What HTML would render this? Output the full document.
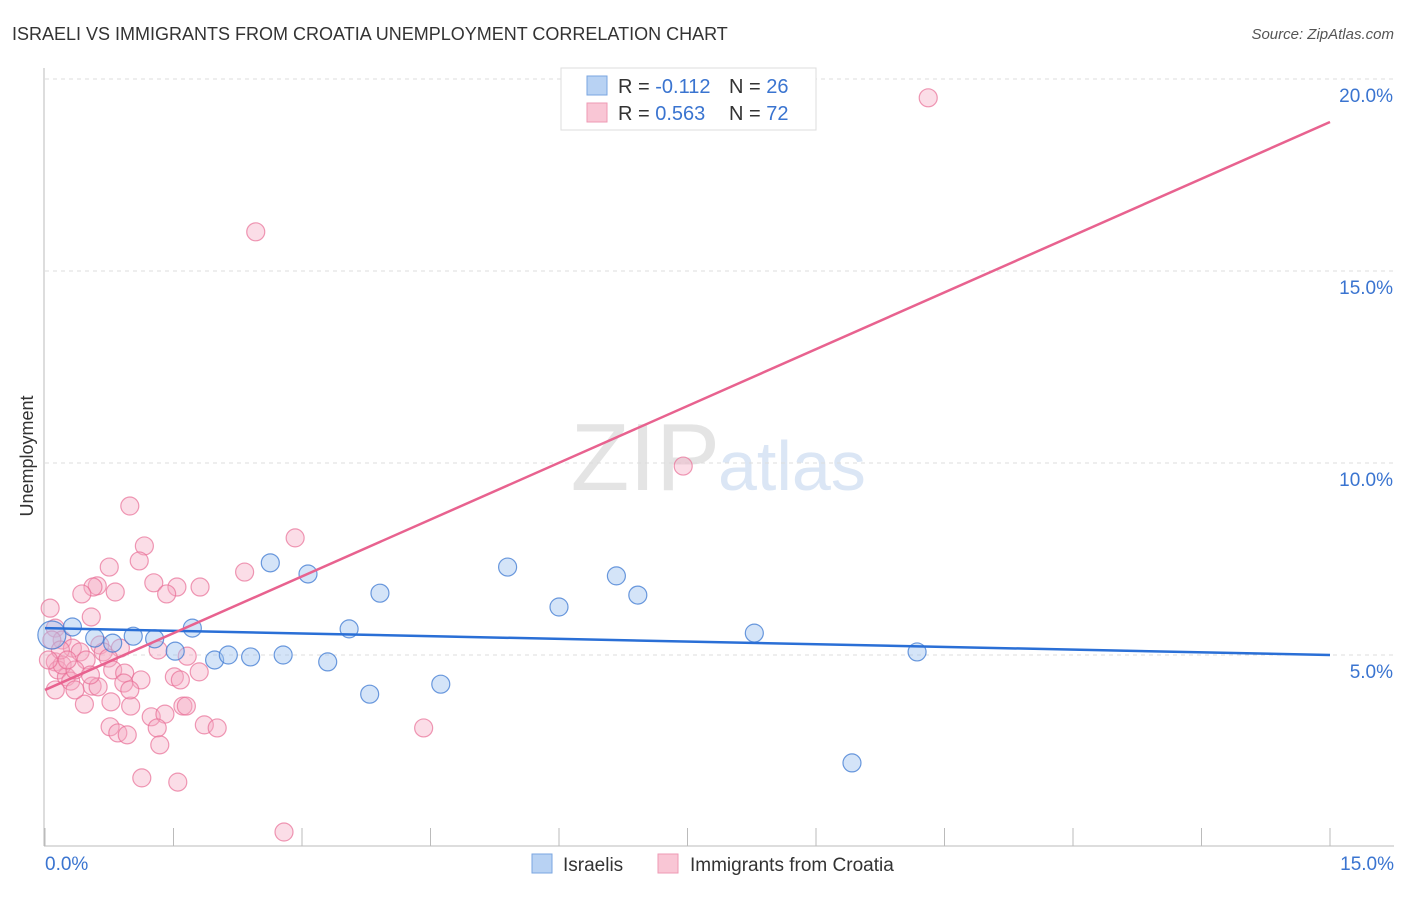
<!DOCTYPE html>
<html><head><meta charset="utf-8"><style>
body{margin:0;background:#fff;font-family:"Liberation Sans",sans-serif;}
svg text{font-family:"Liberation Sans",sans-serif;}
</style></head><body>
<svg id="chart" width="1406" height="892" viewBox="0 0 1406 892">
<text x="12" y="40" font-size="18" fill="#333">ISRAELI VS IMMIGRANTS FROM CROATIA UNEMPLOYMENT CORRELATION CHART</text>
<text x="1394" y="39" font-size="15" fill="#555" text-anchor="end" font-style="italic">Source: ZipAtlas.com</text>
<text x="33" y="456" font-size="18" fill="#333" text-anchor="middle" transform="rotate(-90 33 456)">Unemployment</text>
<text x="720" y="490" font-size="96" fill="#e4e4e4" text-anchor="end" font-family="Liberation Serif">ZIP</text>
<text x="718" y="490" font-size="70" fill="#dbe6f5">atlas</text>
<g id="grid"></g><g id="axes"></g><g id="lines"></g><g id="pts"></g>
<g>
<rect x="561" y="68" width="255" height="62" fill="#fff" stroke="#ddd"/>
<rect x="587" y="76" width="20" height="19" fill="#b8d2f3" stroke="#7aa6e0"/>
<rect x="587" y="103" width="20" height="19" fill="#f9c6d5" stroke="#ee9ab4"/>
<text x="618" y="93" font-size="20" fill="#333">R = <tspan fill="#3a74d0">-0.112</tspan></text>
<text x="729" y="93" font-size="20" fill="#333">N = <tspan fill="#3a74d0">26</tspan></text>
<text x="618" y="120" font-size="20" fill="#333">R = <tspan fill="#3a74d0"> 0.563</tspan></text>
<text x="729" y="120" font-size="20" fill="#333">N = <tspan fill="#3a74d0">72</tspan></text>
</g>
<g>
<rect x="532" y="854" width="20" height="19" fill="#b8d2f3" stroke="#7aa6e0"/>
<text x="563" y="871" font-size="19" fill="#333">Israelis</text>
<rect x="658" y="854" width="20" height="19" fill="#f9c6d5" stroke="#ee9ab4"/>
<text x="690" y="871" font-size="19" fill="#333">Immigrants from Croatia</text>
</g>
</svg>
<script>
const yTicks=[5,10,15,20];
const yTickLabels=["5.0%","10.0%","15.0%","20.0%"];
const xTicks=[0,1.5,3,4.5,6,7.5,9,10.5,12,13.5,15];
const xEndLabels=["0.0%","15.0%"];
const blueX=[.08,.32,.58,.79,1.03,1.28,1.52,1.72,1.98,2.14,2.40,2.63,2.78,3.07,3.30,3.55,3.79,3.91,4.62,5.40,6.00,6.67,6.92,8.28,10.18,9.42];
const blueY=[5.52,5.73,5.44,5.31,5.49,5.42,5.10,5.70,4.87,5.00,4.95,7.40,5.00,7.11,4.82,5.68,3.98,6.61,4.24,7.29,6.25,7.06,6.56,5.57,5.08,2.19];
const pinkX=[2.46,10.31,7.45,.99,2.92,1.16,1.10,.75,2.33,.61,1.27,1.54,1.81,.56,.82,.43,1.42,.06,.54,.12,.20,.64,.88,1.32,1.66,.68,.74,.32,.41,.48,.12,.15,.25,.30,.20,.35,.79,.93,1.12,1.51,1.58,1.80,.92,.55,.62,.46,.77,1.00,1.24,1.40,1.61,1.65,.76,.85,.96,1.86,2.01,1.31,1.34,1.13,1.55,2.79,4.42,.08,.18,.04,.26,.35,.53,.99,.12];
const pinkY=[16.02,19.51,9.92,8.88,8.05,7.84,7.45,7.29,7.16,6.80,6.88,6.77,6.77,6.77,6.64,6.59,6.59,6.22,5.99,5.70,5.39,5.26,5.18,5.13,4.97,5.08,4.92,5.18,5.08,4.87,4.82,4.61,4.43,4.32,4.74,4.61,4.61,4.53,4.35,4.43,4.35,4.56,4.27,4.19,4.17,3.72,3.78,3.67,3.39,3.46,3.67,3.67,3.13,2.97,2.92,3.18,3.10,3.10,2.66,1.80,1.69,.39,3.10,5.39,5.13,4.87,4.87,4.09,4.48,4.09,4.09];
const blueTrend=[5.70,5.00];
const pinkTrend=[4.09,18.88];
const NS="http://www.w3.org/2000/svg";
const X=v=>45+v/15*1285, Y=v=>847-v*38.4;
function mk(p,t,a){const e=document.createElementNS(NS,t);for(const k in a)e.setAttribute(k,a[k]);document.getElementById(p).appendChild(e);return e;}
yTicks.forEach((t,i)=>{
 const l=mk('grid','line',{x1:45,x2:1394,y1:Y(t),y2:Y(t),stroke:'#ddd','stroke-dasharray':'4,4'});
 
 
 const tx=mk('grid','text',{x:1393,y:Y(t)+23,'font-size':19,fill:'#3a74d0','text-anchor':'end'});
 tx.textContent=yTickLabels[i];
 
 
});
const ax=mk('axes','line',{x1:44,x2:44,y1:68,y2:846,stroke:'#bbb'});


const bx=mk('axes','line',{x1:44,x2:1394,y1:846,y2:846,stroke:'#bbb'});


xTicks.forEach(t=>{const e=mk('axes','line',{x1:X(t),x2:X(t),y1:828,y2:846,stroke:'#bbb'});
 
 });
[[0,'start',45],[15,'end',1394]].forEach((d,i)=>{const e=mk('axes','text',{x:d[2],y:870,'font-size':19,fill:'#3a74d0','text-anchor':d[1]});e.textContent=xEndLabels[i];
 
 });
function pts(xs,ys,fill,stroke,name){xs.forEach((x,i)=>{const c=mk('pts','circle',{cx:X(x),cy:Y(ys[i]),r:(name==='israeli-point'&&i===0)?14:9,fill:fill,stroke:stroke,'stroke-width':1.2});
 
 });}
pts(pinkX,pinkY,'rgba(246,170,194,0.4)','rgba(232,110,150,0.7)','croatia-point');
pts(blueX,blueY,'rgba(160,196,240,0.45)','rgba(60,120,210,0.75)','israeli-point');
const bl=mk('lines','line',{x1:X(0),y1:Y(blueTrend[0]),x2:X(15),y2:Y(blueTrend[1]),stroke:'#2a6fd6','stroke-width':2.5});


const pl=mk('lines','line',{x1:X(0),y1:Y(pinkTrend[0]),x2:X(15),y2:Y(pinkTrend[1]),stroke:'#e8628f','stroke-width':2.5});


document.getElementById('chart').appendChild(document.getElementById('lines'));
</script>
</body></html>
